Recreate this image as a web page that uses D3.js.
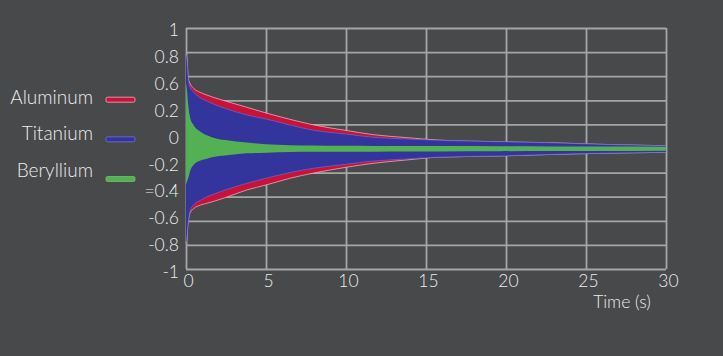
<!DOCTYPE html>
<html>
<head>
<meta charset="utf-8">
<script src="https://cdn.jsdelivr.net/npm/d3@7/dist/d3.min.js"></script>
<style>
  html, body { margin: 0; padding: 0; background: #47494b; }
  svg { display: block; }
  text { font-family: Lato, "Open Sans", sans-serif; font-weight: 300; fill: #ececec; }
</style>
</head>
<body>
<svg id="chart" width="723" height="356"></svg>
<script>
// ---- data (envelopes of the damped signals) ----
const time = [0, 0.05, 0.1, 0.15, 0.25, 0.47, 0.9, 1.3, 1.7, 2.45, 3.8, 5, 6.5, 7.9, 10, 11.7, 13.8, 15.8, 19.6, 22.7, 25.8, 30];

const aluminumUpper = [0.78, 0.75, 0.66, 0.58, 0.54, 0.50, 0.465, 0.444, 0.425, 0.394, 0.342, 0.295, 0.242, 0.198, 0.150, 0.115, 0.090, 0.070, 0.056, 0.048, 0.035, 0.023];
const aluminumLower = [-0.78, -0.75, -0.66, -0.60, -0.535, -0.50, -0.47, -0.455, -0.44, -0.408, -0.344, -0.303, -0.247, -0.206, -0.156, -0.123, -0.095, -0.072, -0.062, -0.050, -0.040, -0.032];

const titaniumUpper = [0.78, 0.75, 0.66, 0.57, 0.51, 0.47, 0.42, 0.394, 0.37, 0.333, 0.278, 0.245, 0.195, 0.153, 0.12, 0.093, 0.079, 0.068, 0.056, 0.048, 0.035, 0.023];
const titaniumLower = [-0.78, -0.75, -0.66, -0.60, -0.52, -0.47, -0.43, -0.40, -0.38, -0.344, -0.289, -0.247, -0.20, -0.165, -0.131, -0.104, -0.087, -0.072, -0.062, -0.050, -0.040, -0.032];

const berylliumUpper = [0.54, 0.50, 0.42, 0.35, 0.26, 0.195, 0.14, 0.11, 0.09, 0.07, 0.05, 0.035, 0.028, 0.025, 0.022, 0.021, 0.020, 0.020, 0.018, 0.017, 0.016, 0.015];
const berylliumLower = [-0.30, -0.28, -0.26, -0.24, -0.19, -0.137, -0.10, -0.085, -0.07, -0.058, -0.04, -0.035, -0.030, -0.028, -0.027, -0.026, -0.025, -0.024, -0.022, -0.021, -0.020, -0.018];

const seriesNames = ["Aluminum", "Titanium", "Beryllium"];
const xTicks = [0, 5, 10, 15, 20, 25, 30];
const yGrid = [1, 0.8, 0.6, 0.4, 0.2, 0, -0.2, -0.4, -0.6, -0.8, -1];
const yTickLabels = ["1", "0.8", "0.6", "0.2", "0", "-0.2", "=0.4", "-0.6", "-0.8", "-1"];
const xTitle = "Time (s)";

// ---- layout ----
const svg = d3.select("#chart");
const pL = 186, pR = 666, pT = 28, pB = 269;
const x = d3.scaleLinear().domain([0, 30]).range([pL, pR]);
const y = d3.scaleLinear().domain([-1, 1]).range([pB, pT]);
const yLab = d3.scalePoint().domain(yTickLabels).range([29.5, 271.5]);

const colors = { Aluminum: "#c8123a", Titanium: "#34359c", Beryllium: "#53b153" };
const edge = { Aluminum: "#f2b0bf", Titanium: "#7373d6", Beryllium: "#6cc46c" };

// grid
const gridColor = "#a6a6a6";
const gx = svg.append("g").attr("transform", `translate(0,${pB})`)
  .call(d3.axisBottom(x).tickValues(xTicks).tickSize(-(pB - pT)).tickFormat(""));
gx.select(".domain").remove();
gx.selectAll("line").attr("stroke", gridColor).attr("stroke-width", 1.8);

const gy = svg.append("g").attr("transform", `translate(${pL},0)`)
  .call(d3.axisLeft(y).tickValues(yGrid).tickSize(-(pR - pL)).tickFormat(""));
gy.select(".domain").remove();
gy.selectAll("line").attr("stroke", gridColor).attr("stroke-width", 1.8);

// signal envelopes
const env = {
  Aluminum: time.map((t, i) => ({ t, hi: aluminumUpper[i], lo: aluminumLower[i] })),
  Titanium: time.map((t, i) => ({ t, hi: titaniumUpper[i], lo: titaniumLower[i] })),
  Beryllium: time.map((t, i) => ({ t, hi: berylliumUpper[i], lo: berylliumLower[i] }))
};
const area = d3.area().x(d => x(d.t)).y0(d => y(d.lo)).y1(d => y(d.hi)).curve(d3.curveMonotoneX);
const lineHi = d3.line().x(d => x(d.t)).y(d => y(d.hi)).curve(d3.curveMonotoneX);
const lineLo = d3.line().x(d => x(d.t)).y(d => y(d.lo)).curve(d3.curveMonotoneX);

seriesNames.forEach(name => {
  const g = svg.append("g");
  g.append("path").datum(env[name]).attr("d", area).attr("fill", colors[name]);
  if (name !== "Beryllium") {
    [lineHi, lineLo].forEach(l => {
      g.append("path").datum(env[name]).attr("d", l)
        .attr("fill", "none").attr("stroke", edge[name])
        .attr("stroke-width", name === "Aluminum" ? 0.9 : 0.7).attr("opacity", 0.85);
    });
  }
});

// y tick labels
const yl = svg.append("g").attr("transform", `translate(${pL - 7},0)`)
  .call(d3.axisLeft(yLab).tickSize(0).tickPadding(0));
yl.select(".domain").remove();
yl.selectAll("text").attr("font-size", 17.5).attr("fill", "#ececec")
  .style("font-family", "Lato, sans-serif").style("font-weight", 300).attr("dy", "0.35em");

// x tick labels
const xl = svg.append("g").attr("transform", `translate(2,${pB})`)
  .call(d3.axisBottom(x).tickValues(xTicks).tickSize(0).tickPadding(6));
xl.select(".domain").remove();
xl.selectAll("text").attr("font-size", 17.5).attr("fill", "#ececec")
  .style("font-family", "Lato, sans-serif").style("font-weight", 300);

// axis title
svg.append("text").attr("x", 622).attr("y", 308).attr("text-anchor", "middle")
  .attr("font-size", 17.5).text(xTitle);

// legend
const legY = d3.scalePoint().domain(seriesNames).range([97, 170]);
const swY = d3.scalePoint().domain(seriesNames).range([99.7, 179]);
const leg = svg.append("g");
seriesNames.forEach(name => {
  leg.append("text").attr("x", 93).attr("y", legY(name)).attr("dy", "0.35em")
    .attr("text-anchor", "end").attr("font-size", 19).text(name);
  leg.append("rect").attr("x", 106).attr("y", swY(name) - 2.5)
    .attr("width", 29).attr("height", 5).attr("rx", 1.5)
    .attr("fill", colors[name]).attr("stroke", edge[name]).attr("stroke-width", 0.8);
});
</script>
</body>
</html>
